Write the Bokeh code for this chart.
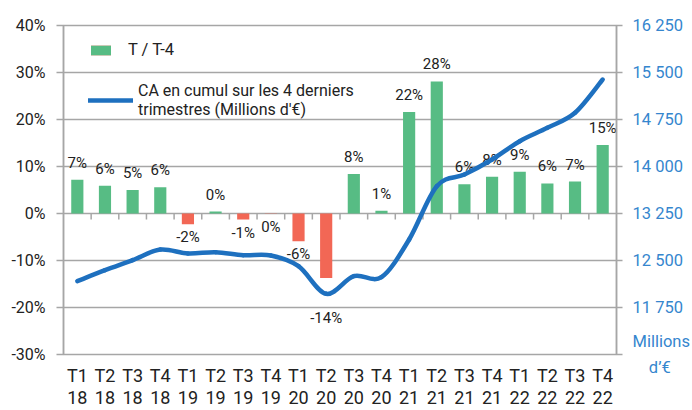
from bokeh.plotting import figure
from bokeh.models import (Range1d, LinearAxis, FixedTicker, Legend, LegendItem,
                          ColumnDataSource)
from bokeh.core.properties import value
from bokeh.embed import file_html
from bokeh.resources import INLINE

quarters = ["T1", "T2", "T3", "T4"] * 5
years = ["18"] * 4 + ["19"] * 4 + ["20"] * 4 + ["21"] * 4 + ["22"] * 4
growth = [7.2, 5.9, 5.0, 5.6, -2.3, 0.4, -1.3, -0.05, -5.9, -13.7,
          8.4, 0.6, 21.6, 28.1, 6.2, 7.8, 8.9, 6.4, 6.8, 14.6]
ca_cumul = [12170, 12345, 12505, 12675, 12612, 12633, 12585, 12580, 12410, 11968,
            12250, 12235, 12835, 13686, 13872, 14112, 14404, 14617, 14857, 15388]
left_ticks = [-30, -20, -10, 0, 10, 20, 30, 40]
right_ticks = [11750, 12500, 13250, 14000, 14750, 15500, 16250]
right_unit_label = "Millions\nd’€"

GREEN = "#57BC84"
RED = "#F26755"
BLUE = "#1E70BF"
BLUE_TXT = "#3586CE"
GRID = "#A6A6A6"
TXT = "#222222"
FONT = "Roboto"

n = len(growth)
xs = [i + 0.5 for i in range(n)]
R_LO, R_HI = 11000, 16250
L_LO, L_HI = -30, 40

p = figure(width=692, height=410, output_backend="svg", toolbar_location=None,
           x_range=Range1d(0, n), y_range=Range1d(L_LO, L_HI),
           min_border_left=63, min_border_right=75, min_border_top=25,
           min_border_bottom=56)
p.extra_y_ranges = {"right": Range1d(R_LO, R_HI)}

p.outline_line_color = GRID
p.outline_line_width = 1.5
p.background_fill_color = "white"
p.border_fill_color = "white"
p.xgrid.visible = False
p.ygrid.grid_line_color = GRID
p.ygrid.grid_line_width = 1.5
p.ygrid.ticker = FixedTicker(ticks=left_ticks)

# left axis
ya = p.yaxis[0]
ya.ticker = FixedTicker(ticks=left_ticks)
ya.major_label_overrides = {t: f"{t}%" for t in left_ticks}
ya.axis_line_color = GRID
ya.axis_line_width = 1.5
ya.major_tick_line_color = GRID
ya.major_tick_line_width = 1.5
ya.major_tick_out = 7
ya.major_tick_in = 0
ya.minor_tick_line_color = None
ya.minor_tick_out = 0
ya.minor_tick_in = 0
ya.major_label_text_font = FONT
ya.major_label_text_font_size = "16px"
ya.major_label_text_color = TXT
ya.major_label_standoff = 11

# right axis (unit label sits at the bottom end of the axis)
ra = LinearAxis(y_range_name="right", ticker=FixedTicker(ticks=[R_LO] + right_ticks))
overrides = {t: f"{t // 1000} {t % 1000:03d}" for t in right_ticks}
overrides[R_LO] = right_unit_label.replace("\n", "\n\u00a0\u00a0\u00a0\u00a0")
ra.major_label_overrides = overrides
ra.axis_line_color = GRID
ra.axis_line_width = 1.5
ra.major_tick_line_color = GRID
ra.major_tick_line_width = 1.5
ra.major_tick_out = 6
ra.major_tick_in = 0
ra.minor_tick_line_color = None
ra.minor_tick_out = 0
ra.minor_tick_in = 0
ra.major_label_text_font = FONT
ra.major_label_text_font_size = "16.5px"
ra.major_label_text_color = BLUE_TXT
ra.major_label_text_line_height = 1.35
ra.major_label_standoff = 10
p.add_layout(ra, "right")

# bottom axis
xa = p.xaxis[0]
xa.ticker = FixedTicker(ticks=xs)
xa.major_label_overrides = {x: f"{q}\n{y}" for x, q, y in zip(xs, quarters, years)}
xa.axis_line_color = None
xa.major_tick_line_color = None
xa.minor_tick_line_color = None
xa.major_tick_out = 0
xa.major_tick_in = 0
xa.minor_tick_out = 0
xa.minor_tick_in = 0
xa.major_label_text_font = FONT
xa.major_label_text_font_size = "18px"
xa.major_label_text_color = TXT
xa.major_label_text_line_height = 1.05
xa.major_label_standoff = 10

# zero line ticks at category boundaries
bx = list(range(1, n))
p.segment(x0=bx, y0=[0] * len(bx), x1=bx, y1=[-1.3] * len(bx),
          line_color=GRID, line_width=1.5)

# line values expressed on the left scale (for label placement only)
line_pct = [L_LO + (v - R_LO) / (R_HI - R_LO) * (L_HI - L_LO) for v in ca_cumul]

pos_x, pos_y, pos_lab = [], [], []
neg_x, neg_y, neg_lab = [], [], []
for x, g, lp in zip(xs, growth, line_pct):
    lab = f"{int(round(g))}%"
    if g >= 0:
        pos_x.append(x); pos_y.append(g); pos_lab.append(lab)
    else:
        # push the label under the line when the line runs just below the bar
        anchor = g if not (0 < g - lp < 5) else lp - 2.4
        neg_x.append(x); neg_y.append(anchor); neg_lab.append(lab)

pos = ColumnDataSource(dict(x=[x for x, g in zip(xs, growth) if g >= 0],
                            top=[g for g in growth if g >= 0]))
neg = ColumnDataSource(dict(x=[x for x, g in zip(xs, growth) if g < 0],
                            top=[g for g in growth if g < 0]))

gbars = p.vbar(x="x", top="top", bottom=0, width=0.44, source=pos,
               fill_color=GREEN, line_color=None)
rbars = p.vbar(x="x", top="top", bottom=0, width=0.44, source=neg,
               fill_color=RED, line_color=None)

p.text(x=pos_x, y=pos_y, text=pos_lab, text_align="center",
       text_baseline="bottom", y_offset=-8, text_font=value(FONT),
       text_font_size="15px", text_color=TXT)
p.text(x=neg_x, y=neg_y, text=neg_lab, text_align="center",
       text_baseline="top", y_offset=4, text_font=value(FONT),
       text_font_size="15px", text_color=TXT)

# smoothed line (Catmull-Rom bezier through the data points)
P = list(zip(xs, ca_cumul))
x0, y0, x1, y1, cx0, cy0, cx1, cy1 = [], [], [], [], [], [], [], []
for i in range(n - 1):
    pm = P[i - 1] if i > 0 else P[i]
    pa = P[i]
    pb = P[i + 1]
    pp = P[i + 2] if i + 2 < n else P[i + 1]
    x0.append(pa[0]); y0.append(pa[1])
    x1.append(pb[0]); y1.append(pb[1])
    cx0.append(pa[0] + (pb[0] - pm[0]) / 6); cy0.append(pa[1] + (pb[1] - pm[1]) / 6)
    cx1.append(pb[0] - (pp[0] - pa[0]) / 6); cy1.append(pb[1] - (pp[1] - pa[1]) / 6)
line_r = p.bezier(x0=x0, y0=y0, x1=x1, y1=y1, cx0=cx0, cy0=cy0, cx1=cx1, cy1=cy1,
                  y_range_name="right", line_color=BLUE, line_width=4.5,
                  line_cap="round")

# legends
leg1 = Legend(items=[LegendItem(label="T / T-4", renderers=[rbars, gbars])],
              location=(25, 295), glyph_width=25, glyph_height=12,
              label_standoff=15, padding=0, margin=0, spacing=0,
              border_line_color=None, background_fill_alpha=0,
              label_text_font=FONT, label_text_font_size="16.5px",
              label_text_color=TXT)
leg2 = Legend(items=[LegendItem(label="CA en cumul sur les 4 derniers\ntrimestres (Millions d'€)",
                                renderers=[line_r])],
              location=(25, 235), glyph_width=45, glyph_height=20,
              label_standoff=5, padding=0, margin=0, spacing=0,
              border_line_color=None, background_fill_alpha=0,
              label_text_font=FONT, label_text_font_size="16px",
              label_text_color=TXT, label_text_line_height=1.0)
p.add_layout(leg1)
p.add_layout(leg2)

open("out.html", "w").write(file_html(p, INLINE))
